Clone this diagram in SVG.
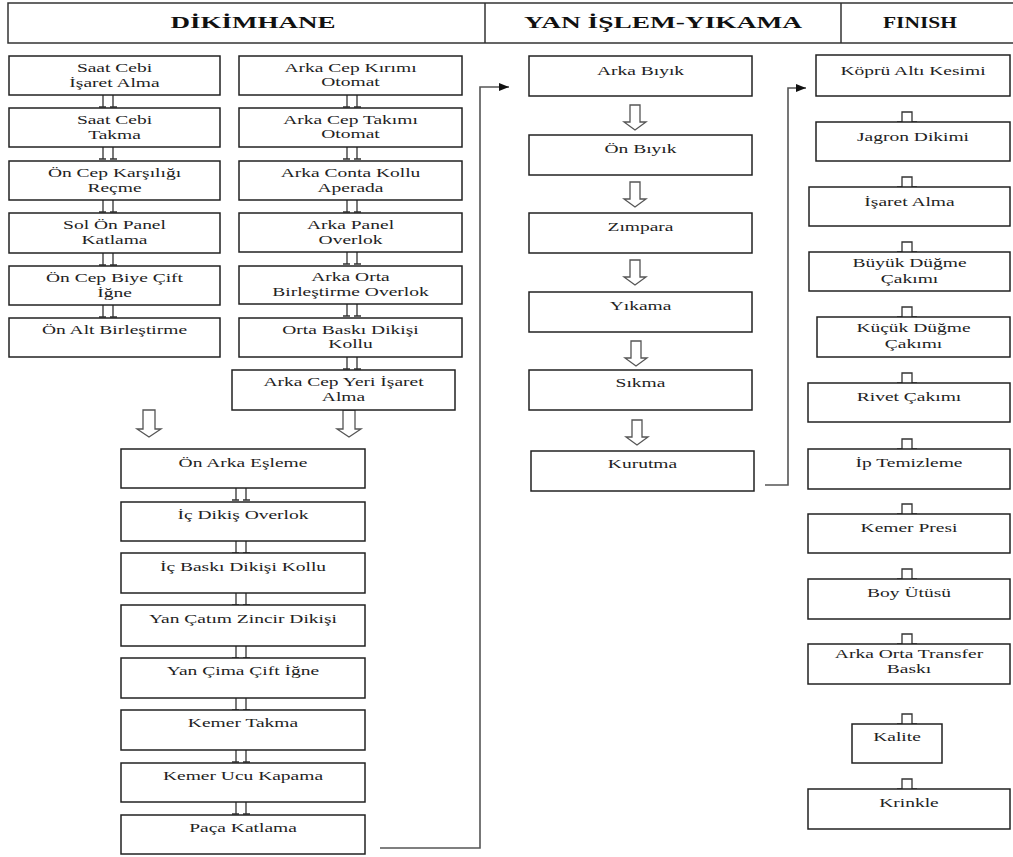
<svg xmlns="http://www.w3.org/2000/svg" width="1013" height="857" viewBox="0 0 1013 857">
<style>
.box{fill:#fff;stroke:#222;stroke-width:1.5}
.hd{fill:#fff;stroke:#333;stroke-width:1.5}
.t{font-family:'Liberation Serif','Times New Roman',serif;font-size:13px;fill:#222;text-anchor:middle}
.h{font-family:'Liberation Serif','Times New Roman',serif;font-size:16px;font-weight:bold;fill:#111;text-anchor:middle}
.ln{fill:none;stroke:#555;stroke-width:1.6}
.ha{fill:#fff;stroke:#555;stroke-width:1.3}
.dc{fill:none;stroke:#333;stroke-width:1.3}
</style>
<defs>
<marker id="ah" viewBox="0 0 10 8" refX="10" refY="4" markerWidth="10" markerHeight="8" markerUnits="userSpaceOnUse" orient="auto"><path d="M0,0 L10,4 L0,8 Z" fill="#111"/></marker>
<path id="hollow" class="ha" d="M-5,0 V17 H-11 L0,25 L11,17 H5 V0 Z"/>
<path id="bighollow" class="ha" d="M-6,0 V19 H-12 L0,27 L12,19 H6 V0 Z"/>
<path id="dbl" class="dc" d="M-5,0 V12 M5,0 V12 M-9,12 H-2 M2,12 H9"/>
<path id="pi" class="dc" d="M-10,10 H-5 V0 H5 V10 H10"/>
</defs>
<rect x="0" y="0" width="1013" height="857" fill="#fff"/>

<g id="header">
<rect class="hd" x="8" y="3" width="1010" height="40"/>
<line x1="485" y1="3" x2="485" y2="43" stroke="#333" stroke-width="1.5"/>
<line x1="841" y1="3" x2="841" y2="43" stroke="#333" stroke-width="1.5"/>
<text class="h" x="253" y="28" textLength="165" lengthAdjust="spacingAndGlyphs">DİKİMHANE</text>
<text class="h" x="663" y="28" textLength="278" lengthAdjust="spacingAndGlyphs">YAN İŞLEM-YIKAMA</text>
<text class="h" x="920" y="28" textLength="74" lengthAdjust="spacingAndGlyphs">FINISH</text>
</g>

<g id="connectors">
<polyline class="ln" points="380,848 480,848 480,87 509,87" marker-end="url(#ah)"/>
<polyline class="ln" points="765,485 788,485 788,88 806,88" marker-end="url(#ah)"/>
<use href="#dbl" x="108" y="95"/>
<use href="#dbl" x="108" y="147"/>
<use href="#dbl" x="108" y="200"/>
<use href="#dbl" x="108" y="253"/>
<use href="#dbl" x="108" y="305"/>
<use href="#dbl" x="352" y="95"/>
<use href="#dbl" x="352" y="147"/>
<use href="#dbl" x="352" y="200"/>
<use href="#dbl" x="352" y="252"/>
<use href="#dbl" x="352" y="304"/>
<use href="#dbl" x="352" y="357"/>
<use href="#bighollow" x="149" y="410"/>
<use href="#bighollow" x="349" y="410"/>
<use href="#dbl" x="241" y="488"/>
<use href="#dbl" x="241" y="541"/>
<use href="#dbl" x="241" y="593"/>
<use href="#dbl" x="241" y="646"/>
<use href="#dbl" x="241" y="698"/>
<use href="#dbl" x="241" y="750"/>
<use href="#dbl" x="241" y="802"/>
<use href="#hollow" x="635" y="105"/>
<use href="#hollow" x="635" y="182"/>
<use href="#hollow" x="635" y="260"/>
<use href="#hollow" x="636" y="341"/>
<use href="#hollow" x="637" y="420"/>
<use href="#pi" x="907" y="112"/>
<use href="#pi" x="907" y="177"/>
<use href="#pi" x="907" y="242"/>
<use href="#pi" x="907" y="307"/>
<use href="#pi" x="907" y="373"/>
<use href="#pi" x="907" y="439"/>
<use href="#pi" x="907" y="504"/>
<use href="#pi" x="907" y="569"/>
<use href="#pi" x="907" y="634"/>
<use href="#pi" x="907" y="714"/>
<use href="#pi" x="907" y="779"/>
</g>

<g id="n1"><rect class="box" x="9" y="56" width="211" height="39"/><text class="t" transform="translate(114.5,72) scale(1.5,1)">Saat Cebi</text><text class="t" transform="translate(114.5,87) scale(1.5,1)">İşaret Alma</text></g>
<g id="n2"><rect class="box" x="9" y="108" width="211" height="39"/><text class="t" transform="translate(114.5,124) scale(1.5,1)">Saat Cebi</text><text class="t" transform="translate(114.5,139) scale(1.5,1)">Takma</text></g>
<g id="n3"><rect class="box" x="9" y="161" width="211" height="39"/><text class="t" transform="translate(114.5,177) scale(1.5,1)">Ön Cep Karşılığı</text><text class="t" transform="translate(114.5,192) scale(1.5,1)">Reçme</text></g>
<g id="n4"><rect class="box" x="9" y="213" width="211" height="40"/><text class="t" transform="translate(114.5,229) scale(1.5,1)">Sol Ön Panel</text><text class="t" transform="translate(114.5,244) scale(1.5,1)">Katlama</text></g>
<g id="n5"><rect class="box" x="9" y="266" width="211" height="39"/><text class="t" transform="translate(114.5,282) scale(1.5,1)">Ön Cep Biye Çift</text><text class="t" transform="translate(114.5,297) scale(1.5,1)">İğne</text></g>
<g id="n6"><rect class="box" x="9" y="318" width="211" height="39"/><text class="t" transform="translate(114.5,334) scale(1.5,1)">Ön Alt Birleştirme</text></g>

<g id="m1"><rect class="box" x="239" y="56" width="223" height="39"/><text class="t" transform="translate(350.5,72) scale(1.5,1)">Arka Cep Kırımı</text><text class="t" transform="translate(350.5,86) scale(1.5,1)">Otomat</text></g>
<g id="m2"><rect class="box" x="239" y="108" width="223" height="39"/><text class="t" transform="translate(350.5,124) scale(1.5,1)">Arka Cep Takımı</text><text class="t" transform="translate(350.5,138) scale(1.5,1)">Otomat</text></g>
<g id="m3"><rect class="box" x="239" y="161" width="223" height="39"/><text class="t" transform="translate(350.5,177) scale(1.5,1)">Arka Conta Kollu</text><text class="t" transform="translate(350.5,192) scale(1.5,1)">Aperada</text></g>
<g id="m4"><rect class="box" x="239" y="213" width="223" height="39"/><text class="t" transform="translate(350.5,229) scale(1.5,1)">Arka Panel</text><text class="t" transform="translate(350.5,244) scale(1.5,1)">Overlok</text></g>
<g id="m5"><rect class="box" x="239" y="266" width="223" height="38"/><text class="t" transform="translate(350.5,281) scale(1.5,1)">Arka Orta</text><text class="t" transform="translate(350.5,296) scale(1.5,1)">Birleştirme Overlok</text></g>
<g id="m6"><rect class="box" x="239" y="318" width="223" height="39"/><text class="t" transform="translate(350.5,334) scale(1.5,1)">Orta Baskı Dikişi</text><text class="t" transform="translate(350.5,348) scale(1.5,1)">Kollu</text></g>
<g id="m7"><rect class="box" x="232" y="370" width="223" height="40"/><text class="t" transform="translate(343.5,386) scale(1.5,1)">Arka Cep Yeri İşaret</text><text class="t" transform="translate(343.5,401) scale(1.5,1)">Alma</text></g>

<g id="l1"><rect class="box" x="121" y="449" width="244" height="39"/><text class="t" transform="translate(243,467) scale(1.5,1)">Ön Arka Eşleme</text></g>
<g id="l2"><rect class="box" x="121" y="502" width="244" height="39"/><text class="t" transform="translate(243,519) scale(1.5,1)">İç Dikiş Overlok</text></g>
<g id="l3"><rect class="box" x="121" y="553" width="244" height="40"/><text class="t" transform="translate(243,571) scale(1.5,1)">İç Baskı Dikişi Kollu</text></g>
<g id="l4"><rect class="box" x="121" y="605" width="244" height="41"/><text class="t" transform="translate(243,623) scale(1.5,1)">Yan Çatım Zincir Dikişi</text></g>
<g id="l5"><rect class="box" x="121" y="658" width="244" height="40"/><text class="t" transform="translate(243,675) scale(1.5,1)">Yan Çima Çift İğne</text></g>
<g id="l6"><rect class="box" x="121" y="710" width="244" height="40"/><text class="t" transform="translate(243,727) scale(1.5,1)">Kemer Takma</text></g>
<g id="l7"><rect class="box" x="121" y="763" width="244" height="39"/><text class="t" transform="translate(243,780) scale(1.5,1)">Kemer Ucu Kapama</text></g>
<g id="l8"><rect class="box" x="121" y="815" width="244" height="39"/><text class="t" transform="translate(243,832) scale(1.5,1)">Paça Katlama</text></g>

<g id="y1"><rect class="box" x="529" y="56" width="223" height="40"/><text class="t" transform="translate(640.5,75) scale(1.5,1)">Arka Bıyık</text></g>
<g id="y2"><rect class="box" x="529" y="135" width="223" height="40"/><text class="t" transform="translate(640.5,153) scale(1.5,1)">Ön Bıyık</text></g>
<g id="y3"><rect class="box" x="529" y="213" width="223" height="40"/><text class="t" transform="translate(640.5,231) scale(1.5,1)">Zımpara</text></g>
<g id="y4"><rect class="box" x="529" y="292" width="223" height="40"/><text class="t" transform="translate(640.5,310) scale(1.5,1)">Yıkama</text></g>
<g id="y5"><rect class="box" x="529" y="370" width="223" height="40"/><text class="t" transform="translate(640.5,387) scale(1.5,1)">Sıkma</text></g>
<g id="y6"><rect class="box" x="531" y="451" width="223" height="40"/><text class="t" transform="translate(642.5,468) scale(1.5,1)">Kurutma</text></g>

<g id="f1"><rect class="box" x="816" y="55" width="194" height="41"/><text class="t" transform="translate(913,75) scale(1.5,1)">Köprü Altı Kesimi</text></g>
<g id="f2"><rect class="box" x="816" y="122" width="194" height="39"/><text class="t" transform="translate(913,141) scale(1.5,1)">Jagron Dikimi</text></g>
<g id="f3"><rect class="box" x="809" y="187" width="201" height="39"/><text class="t" transform="translate(909.5,206) scale(1.5,1)">İşaret Alma</text></g>
<g id="f4"><rect class="box" x="809" y="252" width="201" height="39"/><text class="t" transform="translate(909.5,267) scale(1.5,1)">Büyük Düğme</text><text class="t" transform="translate(909.5,283) scale(1.5,1)">Çakımı</text></g>
<g id="f5"><rect class="box" x="817" y="317" width="193" height="40"/><text class="t" transform="translate(913.5,332) scale(1.5,1)">Küçük Düğme</text><text class="t" transform="translate(913.5,348) scale(1.5,1)">Çakımı</text></g>
<g id="f6"><rect class="box" x="808" y="383" width="202" height="39"/><text class="t" transform="translate(909,401) scale(1.5,1)">Rivet Çakımı</text></g>
<g id="f7"><rect class="box" x="808" y="449" width="202" height="40"/><text class="t" transform="translate(909,467) scale(1.5,1)">İp Temizleme</text></g>
<g id="f8"><rect class="box" x="808" y="514" width="202" height="39"/><text class="t" transform="translate(909,532) scale(1.5,1)">Kemer Presi</text></g>
<g id="f9"><rect class="box" x="808" y="579" width="202" height="40"/><text class="t" transform="translate(909,597) scale(1.5,1)">Boy Ütüsü</text></g>
<g id="f10"><rect class="box" x="808" y="644" width="202" height="40"/><text class="t" transform="translate(909,658) scale(1.5,1)">Arka Orta Transfer</text><text class="t" transform="translate(909,673) scale(1.5,1)">Baskı</text></g>
<g id="f11"><rect class="box" x="852" y="724" width="90" height="39"/><text class="t" transform="translate(897,741) scale(1.5,1)">Kalite</text></g>
<g id="f12"><rect class="box" x="808" y="789" width="202" height="40"/><text class="t" transform="translate(909,807) scale(1.5,1)">Krinkle</text></g>
</svg>
